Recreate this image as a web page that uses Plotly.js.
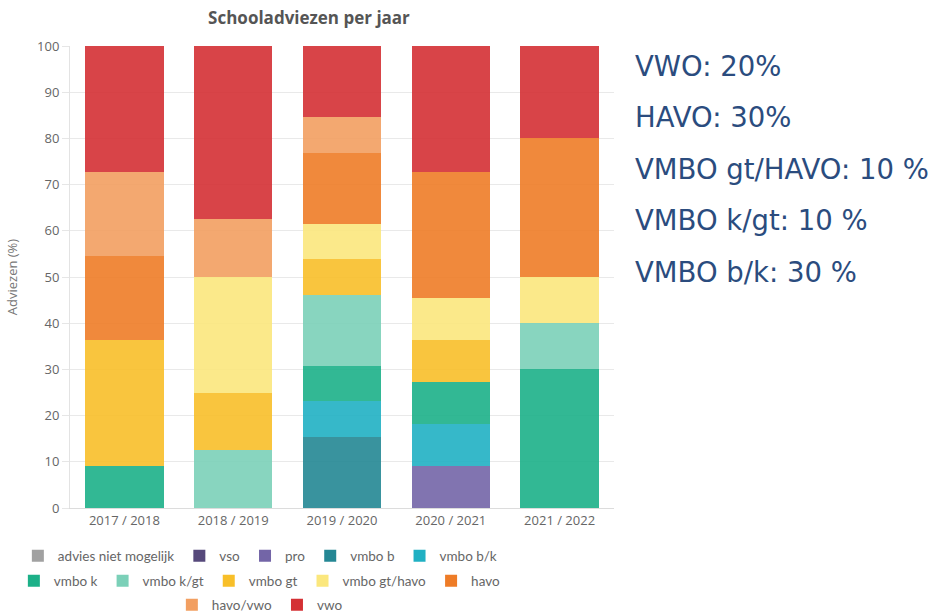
<!DOCTYPE html>
<html>
<head>
<meta charset="utf-8">
<script src="https://cdn.plot.ly/plotly-3.0.1.min.js"></script>
<style>html,body{margin:0;padding:0;background:#fff;}#chart{width:938px;height:614px;}</style>
</head>
<body>
<div id="chart"></div>
<script>
var categories = ['2017 / 2018', '2018 / 2019', '2019 / 2020', '2020 / 2021', '2021 / 2022'];
var seriesNames = ['advies niet mogelijk', 'vso', 'pro', 'vmbo b', 'vmbo b/k', 'vmbo k', 'vmbo k/gt', 'vmbo gt', 'vmbo gt/havo', 'havo', 'havo/vwo', 'vwo'];
var adviesNietMogelijk = [0, 0, 0, 0, 0];
var vso = [0, 0, 0, 0, 0];
var pro = [0, 0, 0, 9.09, 0];
var vmboB = [0, 0, 15.38, 0, 0];
var vmboBK = [0, 0, 7.69, 9.09, 0];
var vmboK = [9.09, 0, 7.69, 9.09, 30];
var vmboKGT = [0, 12.5, 15.38, 0, 10];
var vmboGT = [27.27, 12.5, 7.69, 9.09, 0];
var vmboGTHavo = [0, 25, 7.69, 9.09, 10];
var havo = [18.18, 0, 15.38, 27.27, 30];
var havoVwo = [18.18, 12.5, 7.69, 0, 0];
var vwo = [27.27, 37.5, 15.38, 27.27, 20];
var seriesValues = [adviesNietMogelijk, vso, pro, vmboB, vmboBK, vmboK, vmboKGT, vmboGT, vmboGTHavo, havo, havoVwo, vwo];
var seriesColors = ['#a1a1a1', '#56497b', '#7365a7', '#248794', '#20b0c3', '#1cb088', '#7bd0b8', '#f8bf29', '#fbe77d', '#ee7c27', '#f29f61', '#d43034'];
var legendRow = ['legend', 'legend', 'legend', 'legend', 'legend', 'legend2', 'legend2', 'legend2', 'legend2', 'legend2', 'legend3', 'legend3'];
var sideNotes = ['VWO: 20%', 'HAVO: 30%', 'VMBO gt/HAVO: 10 %', 'VMBO k/gt: 10 %', 'VMBO b/k: 30 %'];

var traces = seriesNames.map(function (name, i) {
  return {
    type: 'bar',
    name: name,
    x: categories,
    y: seriesValues[i],
    legend: legendRow[i],
    marker: { color: seriesColors[i], opacity: 0.9, line: { width: 0 } },
    hoverinfo: 'x+y+name'
  };
});

var noteY = [0.957, 0.846, 0.734, 0.623, 0.511];
var annotations = sideNotes.map(function (t, i) {
  return {
    text: t, xref: 'paper', yref: 'paper', x: 1.035, y: noteY[i],
    xanchor: 'left', yanchor: 'middle', showarrow: false,
    font: { family: 'DejaVu Sans, Verdana, sans-serif', size: 27.5, color: '#2b4c7e' }
  };
});

function legendAt(yPos) {
  return {
    orientation: 'h', x: 0.349, xanchor: 'center', y: yPos, yanchor: 'middle',
    font: { family: 'Lato, sans-serif', size: 13.5, color: '#666' },
    traceorder: 'normal', itemclick: false, itemdoubleclick: false,
    bgcolor: 'rgba(0,0,0,0)'
  };
}

var layout = {
  width: 938, height: 614,
  margin: { l: 70, r: 324, t: 46, b: 106, autoexpand: false },
  paper_bgcolor: '#ffffff', plot_bgcolor: '#ffffff',
  barmode: 'stack',
  bargap: 0.28,
  font: { family: 'Open Sans, sans-serif', color: '#666666', size: 12 },
  title: {
    text: '<b>Schooladviezen per jaar</b>',
    x: 0.3294, xanchor: 'center', xref: 'container',
    y: 0.97, yanchor: 'middle', yref: 'container',
    font: { family: 'Open Sans, sans-serif', size: 17, color: '#555555' }
  },
  xaxis: {
    type: 'category',
    tickfont: { size: 13, color: '#666' },
    showgrid: false,
    showline: true, linecolor: '#dcdcdc', linewidth: 1,
    ticks: '', fixedrange: true
  },
  yaxis: {
    range: [0, 100], dtick: 10,
    title: { text: 'Adviezen (%)', font: { size: 13, color: '#777' }, standoff: 16 },
    tickfont: { size: 13, color: '#666' },
    showgrid: true, gridcolor: '#e9e9e9', gridwidth: 1,
    showline: true, linecolor: '#e3e3e3', linewidth: 1,
    ticks: 'outside', ticklen: 7, tickcolor: '#e6e6e6',
    zeroline: false, fixedrange: true
  },
  legend: legendAt(-0.104),
  legend2: legendAt(-0.158),
  legend3: legendAt(-0.21),
  annotations: annotations,
  showlegend: true
};

Plotly.newPlot('chart', traces, layout, { displayModeBar: false });
</script>
</body>
</html>
